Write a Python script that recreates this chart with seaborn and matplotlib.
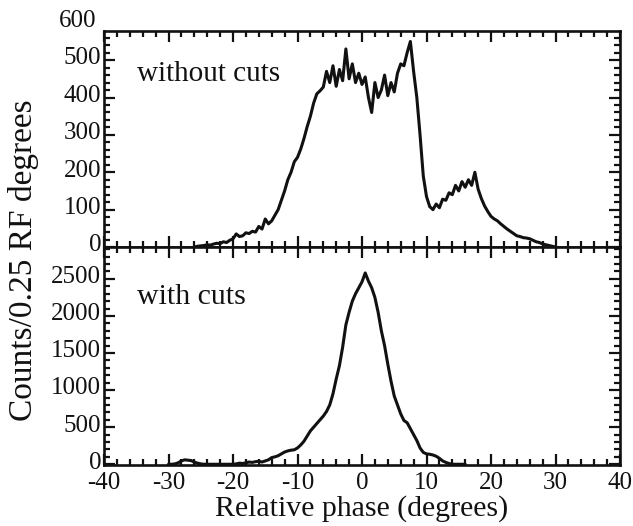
import numpy as np
import pandas as pd
import matplotlib
matplotlib.use("Agg")
import matplotlib.pyplot as plt
import matplotlib.transforms as mtransforms
import seaborn as sns
from matplotlib.ticker import MultipleLocator

sns.set_theme(style="ticks")
plt.rcParams['font.family'] = ['Liberation Serif', 'DejaVu Serif']

# ---- data: relative phase (degrees) and counts ----
phase_without = np.arange(-26.0, 30.01, 0.5)
counts_without = [
    0, 2, 3, 4, 6, 5, 8, 10, 9, 14, 12, 18, 22, 35, 28, 30, 38, 36, 42, 40,
    55, 48, 75, 62, 70, 85, 100, 125, 150, 180, 200, 228, 240, 262, 290, 322,
    350, 385, 410, 418, 428, 470, 440, 485, 430, 475, 445, 530, 450, 490,
    440, 465, 435, 455, 400, 360, 440, 400, 420, 460, 405, 440, 415, 465,
    490, 485, 520, 550, 470, 400, 300, 190, 135, 108, 100, 115, 105, 128,
    125, 145, 140, 165, 150, 175, 160, 180, 165, 200, 155, 130, 110, 95,
    82, 75, 70, 62, 55, 48, 42, 36, 30, 28, 25, 24, 22, 18, 14, 12, 8, 6,
    4, 2, 0,
]

phase_with = np.arange(-30.0, 16.01, 0.5)
counts_with = [
    0, 0, 5, 20, 45, 60, 55, 50, 30, 15, 5, 0, 0, 0, 0, 0, 0, 0, 0, 0,
    0, 5, 15, 10, 20, 30, 25, 35, 40, 30, 45, 60, 90, 100, 115, 140, 165,
    180, 190, 195, 220, 260, 310, 380, 450, 500, 550, 600, 650, 712, 800,
    950, 1150, 1330, 1580, 1880, 2050, 2200, 2300, 2380, 2460, 2580, 2470,
    2380, 2250, 2050, 1800, 1600, 1350, 1120, 920, 800, 680, 590, 560, 480,
    400, 320, 220, 160, 140, 135, 125, 108, 80, 45, 25, 10, 0, 0, 0, 0, 0,
]

xticks = [-40, -30, -20, -10, 0, 10, 20, 30, 40]
top_yticks = [0, 100, 200, 300, 400, 500]
bottom_yticks = [0, 500, 1000, 1500, 2000, 2500]

df_top = pd.DataFrame({"phase": phase_without, "counts": counts_without})
df_bot = pd.DataFrame({"phase": phase_with, "counts": counts_with})

fig = plt.figure(figsize=(6.33, 5.26), dpi=100)
L, R = 104 / 633, 620 / 633
ax1 = fig.add_axes([L, 1 - 247 / 526, R - L, (247 - 31) / 526])
ax2 = fig.add_axes([L, 1 - 465 / 526, R - L, (465 - 247) / 526], sharex=ax1)

lw = 2.2
sns.lineplot(data=df_top, x="phase", y="counts", ax=ax1, color="#111111",
             lw=lw, estimator=None)
sns.lineplot(data=df_bot, x="phase", y="counts", ax=ax2, color="#111111",
             lw=lw, estimator=None)

tick_fs = 18
for ax in (ax1, ax2):
    ax.set_xlim(-40, 40)
    ax.set_xlabel("")
    ax.set_ylabel("")
    ax.xaxis.set_major_locator(MultipleLocator(10))
    ax.xaxis.set_minor_locator(MultipleLocator(2))
    ax.tick_params(which="both", direction="in", top=True, right=True,
                   bottom=True, left=True, width=1.6, colors="#111111",
                   labelsize=tick_fs)
    ax.tick_params(which="major", length=8)
    ax.tick_params(which="minor", length=4)
    for s in ax.spines.values():
        s.set_linewidth(1.9)
        s.set_color("#111111")

ax1.set_ylim(0, 578)
ax1.set_yticks(top_yticks)
ax1.yaxis.set_minor_locator(MultipleLocator(20))
ax1.tick_params(axis="x", labelbottom=False)

ax2.set_ylim(-10, 2930)
ax2.set_yticks(bottom_yticks)
ax2.yaxis.set_minor_locator(MultipleLocator(100))
ax2.set_xticks(xticks)
ax2.set_xticklabels([str(v) for v in xticks])
ax2.tick_params(axis="x", pad=5)
ax1.tick_params(axis="y", pad=2)
ax2.tick_params(axis="y", pad=2)

# lift y tick labels slightly, as in the reference
lift = mtransforms.ScaledTranslation(0, 3 / 72, fig.dpi_scale_trans)
for ax in (ax1, ax2):
    for lab in ax.get_yticklabels():
        lab.set_transform(lab.get_transform() + lift)

trans = mtransforms.blended_transform_factory(ax1.transAxes, ax1.transData)
ax1.text(-0.014, 600, "600", transform=trans + lift, ha="right",
         va="center_baseline", fontsize=tick_fs, color="#111111",
         clip_on=False)

ax1.text(0.064, 0.80, "without cuts", transform=ax1.transAxes,
         fontsize=21, ha="left", va="center", color="#111111")
ax2.text(0.064, 0.77, "with cuts", transform=ax2.transAxes,
         fontsize=21.5, ha="left", va="center", color="#111111")

ax2.set_xlabel("Relative phase (degrees)", fontsize=21.5, labelpad=1,
               color="#111111")
fig.text(0.037, 0.505, "Counts/0.25 RF degrees", rotation=90, ha="center",
         va="center", fontsize=24, color="#111111")

fig.savefig("out.png", dpi=100)
